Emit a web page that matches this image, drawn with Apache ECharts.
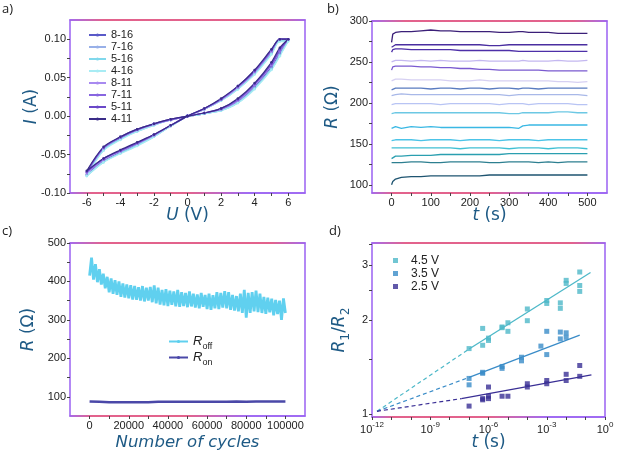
<!DOCTYPE html>
<html><head><meta charset="utf-8">
<script src="https://cdn.jsdelivr.net/npm/echarts@6/dist/echarts.min.js"></script>
<style>html,body{margin:0;padding:0;background:#fff}#c{width:618px;height:458px}</style>
</head><body><div id="c"></div>
<script>
// ================= DATA =================
// (a) I-V sweeps: voltage path shared by all curves
const uA = [0,1,2,3,4,5,5.5,6, 5.5,5,4,3,2,1,0, -1,-2,-3,-4,-5,-6, -5,-4,-3,-2,-1,0];
const ivNames = ['8-16','7-16','5-16','4-16','8-11','7-11','5-11','4-11'];
const iv_8_16 = [0,0.003,0.008,0.019,0.038,0.064,0.082,0.100, 0.100,0.083,0.056,0.036,0.021,0.009,0, -0.013,-0.026,-0.037,-0.047,-0.058,-0.076, -0.043,-0.029,-0.019,-0.011,-0.005,0];
const iv_7_16 = [0,0.003,0.008,0.018,0.037,0.062,0.080,0.099, 0.099,0.082,0.055,0.036,0.021,0.009,0, -0.013,-0.026,-0.038,-0.048,-0.059,-0.077, -0.044,-0.030,-0.019,-0.011,-0.005,0];
const iv_5_16 = [0,0.003,0.007,0.017,0.036,0.061,0.079,0.098, 0.098,0.081,0.055,0.035,0.020,0.009,0, -0.013,-0.027,-0.038,-0.048,-0.060,-0.078, -0.044,-0.030,-0.020,-0.012,-0.005,0];
const iv_4_16 = [0,0.003,0.007,0.017,0.035,0.060,0.078,0.097, 0.097,0.080,0.054,0.035,0.020,0.009,0, -0.013,-0.027,-0.039,-0.049,-0.060,-0.078, -0.045,-0.031,-0.020,-0.012,-0.005,0];
const iv_8_11 = [0,0.004,0.009,0.020,0.040,0.066,0.084,0.100, 0.100,0.084,0.057,0.037,0.021,0.009,0, -0.012,-0.025,-0.036,-0.046,-0.057,-0.074, -0.042,-0.028,-0.018,-0.011,-0.005,0];
const iv_7_11 = [0,0.004,0.009,0.021,0.041,0.067,0.085,0.100, 0.100,0.085,0.058,0.038,0.022,0.010,0, -0.012,-0.025,-0.035,-0.045,-0.056,-0.073, -0.041,-0.028,-0.018,-0.010,-0.005,0];
const iv_5_11 = [0,0.004,0.010,0.022,0.042,0.068,0.087,0.100, 0.100,0.086,0.059,0.039,0.022,0.010,0, -0.012,-0.024,-0.035,-0.045,-0.055,-0.072, -0.041,-0.027,-0.017,-0.010,-0.004,0];
const iv_4_11 = [0,0.004,0.010,0.023,0.043,0.070,0.089,0.100, 0.100,0.087,0.060,0.039,0.023,0.010,0, -0.012,-0.024,-0.034,-0.044,-0.055,-0.071, -0.040,-0.027,-0.017,-0.010,-0.004,0];
const ivData = [iv_8_16, iv_7_16, iv_5_16, iv_4_16, iv_8_11, iv_7_11, iv_5_11, iv_4_11];
const aXLabels = [-6,-4,-2,0,2,4,6];
const aYLabels = [-0.1,-0.05,0,0.05,0.1];

// (b) retention R(t)
const tB = [0,3,10,25,50,75,100,125,150,175,200,225,250,275,300,325,335,350,375,400,425,450,475,500];
const rB1  = [274,284,286,287,287,288,289,288,288,287,287,287,287,286,286,287,287,286,286,286,285,285,285,285];
const rB2  = [268,270,271,271,271,271,271,271,271,271,271,271,270,270,271,271,271,271,271,271,271,271,271,271];
const rB3  = [262,265,266,266,265,265,265,265,265,264,264,264,264,264,264,263,263,263,263,263,263,263,263,263];
const rB4  = [250,251,252,252,251,252,251,252,251,251,251,252,251,251,251,251,252,251,251,251,252,251,251,252];
const rB5  = [240,244,245,245,245,244,244,243,243,242,242,241,241,240,240,240,240,240,240,239,239,239,239,239];
const rB6  = [227,228,229,229,228,228,228,228,227,227,227,228,227,227,227,227,227,227,227,227,226,226,225,226];
const rB7  = [216,217,218,218,218,218,217,218,218,217,218,218,217,218,218,217,218,218,217,218,218,218,218,218];
const rB8  = [209,210,210,211,210,210,210,210,210,210,210,210,210,210,209,210,210,210,210,210,210,210,210,209];
const rB9  = [198,199,199,199,199,199,199,198,199,199,199,199,199,198,199,199,199,198,199,199,199,199,198,198];
const rB10 = [187,188,188,188,188,188,188,188,188,188,188,188,188,188,187,187,188,188,188,188,189,189,188,188];
const rB11 = [169,170,171,169,171,170,171,170,170,170,170,170,170,170,170,169,172,173,173,173,173,173,173,173];
const rB12 = [154,155,155,155,155,154,155,155,155,154,155,155,155,154,155,155,155,155,154,155,155,155,155,155];
const rB13 = [145,145,145,145,145,145,145,145,145,144,145,145,145,145,144,145,145,145,145,144,145,145,145,144];
const rB14 = [132,134,135,135,136,136,136,137,137,137,137,137,137,137,138,138,138,138,138,138,138,138,138,138];
const rB15 = [127,127,127,127,128,128,127,127,128,128,128,128,127,127,128,128,128,128,127,128,127,128,128,128];
const rB16 = [100,104,107,109,110,110,111,111,111,111,111,111,112,112,112,112,112,112,112,112,112,112,112,112];
const rBData = [rB1,rB2,rB3,rB4,rB5,rB6,rB7,rB8,rB9,rB10,rB11,rB12,rB13,rB14,rB15,rB16];
const bXLabels = [0,100,200,300,400,500];
const bYLabels = [100,150,200,250,300];

// (c) endurance
const cyclesOff = [0,1000,2000,3000,4000,5000,6000,7000,8000,9000,10000,11000,12000,13000,14000,15000,16000,17000,18000,19000,20000,21000,22000,23000,24000,25000,26000,27000,28000,29000,30000,31000,32000,33000,34000,35000,36000,37000,38000,39000,40000,41000,42000,43000,44000,45000,46000,47000,48000,49000,50000,51000,52000,53000,54000,55000,56000,57000,58000,59000,60000,61000,62000,63000,64000,65000,66000,67000,68000,69000,70000,71000,72000,73000,74000,75000,76000,77000,78000,79000,80000,81000,82000,83000,84000,85000,86000,87000,88000,89000,90000,91000,92000,93000,94000,95000,96000,97000,98000,99000,100000];
const rOff = [415,462,405,445,398,432,392,420,382,412,372,408,368,403,365,400,360,395,358,392,356,390,353,388,352,385,350,388,348,384,350,386,346,390,343,384,340,378,338,380,336,376,339,374,335,378,334,372,336,370,333,374,335,368,332,366,330,370,334,365,328,368,326,364,330,372,328,370,332,375,330,372,326,365,324,362,322,368,318,378,306,370,318,372,322,376,320,368,318,360,316,358,320,355,312,352,315,350,300,356,318];
const cyclesOn = [0,5000,10000,15000,20000,25000,30000,35000,40000,45000,50000,55000,60000,65000,70000,75000,80000,85000,90000,95000,100000];
const rOn = [88,87,86,86,86,86,86,87,87,87,87,87,87,87,87,88,87,88,88,88,88];
const cXLabels = [0,20000,40000,60000,80000,100000];
const cYLabels = [100,200,300,400,500];

// (d) R1/R2 vs t
const tD45 = [1e-7,5e-7,5e-7,1e-6,1e-6,5e-6,5e-6,1e-5,1e-5,1e-4,1e-4,1e-3,1e-3,5e-3,5e-3,1e-2,1e-2,5e-2,5e-2,5e-2];
const rD45 = [1.62,1.88,1.66,1.75,1.72,1.90,1.89,1.96,1.84,2.17,1.99,2.31,2.26,2.27,2.18,2.68,2.62,2.85,2.58,2.47];
const tD35 = [1e-7,1e-7,5e-7,5e-7,5e-6,5e-6,5e-5,5e-5,5e-4,1e-3,1e-3,5e-3,5e-3,1e-2,1e-2];
const rD35 = [1.30,1.24,1.36,1.35,1.42,1.40,1.52,1.48,1.65,1.84,1.55,1.83,1.74,1.82,1.76];
const tD25 = [1e-7,5e-7,5e-7,1e-6,1e-6,1e-6,5e-6,1e-5,1e-4,1e-4,1e-3,1e-3,1e-2,1e-2,5e-2,5e-2];
const rD25 = [1.06,1.12,1.11,1.22,1.14,1.12,1.14,1.14,1.25,1.22,1.28,1.25,1.34,1.28,1.43,1.32];
const fitT45 = [1e-7,0.18],  fitR45 = [1.615,2.84];
const fitT35 = [1e-7,0.05],  fitR35 = [1.31,1.79];
const fitT25 = [4e-8,0.2],   fitR25 = [1.12,1.335];
const dashT45 = [1.8e-12,1e-7], dashR45 = [1.02,1.615];
const dashT35 = [1.8e-12,1e-7], dashR35 = [1.02,1.31];
const dashT25 = [1.8e-12,4e-8], dashR25 = [1.02,1.12];
const dXExp = [-12,-9,-6,-3,0];
const dYLabels = [1,2,3];

// ================= STYLE =================
const purple = '#9a62f2', red = '#f2566a', titleCol = '#1e5a85';
const gradTop = () => new echarts.graphic.LinearGradient(0,0,1,0,[{offset:0,color:purple},{offset:0.15,color:red},{offset:0.85,color:red},{offset:1,color:purple}]);
const gradBot = () => new echarts.graphic.LinearGradient(0,0,1,0,[{offset:0,color:purple},{offset:0.1,color:red},{offset:0.5,color:red},{offset:0.75,color:purple},{offset:1,color:purple}]);
const lblFont = {color:'#222', fontSize:11, fontFamily:'Liberation Sans, Arial', margin:4};
const tickSt = {show:true, length:3, lineStyle:{color:'#444', width:1}};
const nameSt = (sz) => ({color:titleCol, fontSize:sz, fontFamily:'DejaVu Sans',
  rich:{i:{fontStyle:'italic', color:titleCol, fontSize:sz, fontFamily:'DejaVu Sans'},
        j:{fontStyle:'italic', color:titleCol, fontSize:sz, fontFamily:'DejaVu Sans', verticalAlign:'bottom', padding:[0,0,4,0]},
        n:{color:titleCol, fontSize:sz, fontFamily:'DejaVu Sans', verticalAlign:'bottom', padding:[0,0,4,0]},
        sb:{color:titleCol, fontSize:sz*0.72, fontFamily:'DejaVu Sans', verticalAlign:'bottom'}}});
const aColors = ['#5a5ac8','#98b0e8','#80d8ec','#a8ecf4','#a88af0','#8866e0','#6a48c8','#3a2c88'];
const bColors = ['#3b1f78','#4a2ea0','#4d2fa8','#c4b8f0','#7a5ad0','#d6d0f2','#5a7cc0','#a8b8e8','#b8c4f4','#6cc8e4','#3ab8e4','#4cc4e8','#40c0d4','#2a9fb0','#2d7f90','#1e5470'];
const dColors = ['#4db8c8','#3a8cc8','#3a2f95'];

function bottomX(grid, min, max, labels, ticks, name, gap, nameSize, extra) {
  return Object.assign({type:'value', gridIndex:grid, position:'bottom', min, max,
    axisLine:{show:true, onZero:false, lineStyle:{color:gradBot(), width:1.5}},
    axisTick:Object.assign({customValues:ticks}, tickSt),
    axisLabel:Object.assign({customValues:labels, formatter:v=>String(v)}, lblFont),
    splitLine:{show:false}, name, nameLocation:'middle', nameGap:gap, nameMoveOverlap:false,
    nameTextStyle:nameSt(nameSize)}, extra||{});
}
function topX(grid, min, max, type) {
  return {type:type||'value', gridIndex:grid, position:'top', min, max,
    axisLine:{show:true, onZero:false, lineStyle:{color:gradTop(), width:1.5}},
    axisTick:{show:false}, axisLabel:{show:false}, splitLine:{show:false}};
}
function leftY(grid, min, max, labels, ticks, name, gap, fmt) {
  return {type:'value', gridIndex:grid, position:'left', min, max,
    axisLine:{show:false, onZero:false},
    axisTick:Object.assign({customValues:ticks}, tickSt),
    axisLabel:Object.assign({customValues:labels, formatter:fmt}, lblFont),
    splitLine:{show:false}, name, nameLocation:'middle', nameGap:gap, nameRotate:90, nameMoveOverlap:false,
    nameTextStyle:nameSt(17)};
}

const series = [];
ivData.forEach((arr, k) => series.push({
  name: ivNames[k], type:'line', xAxisIndex:0, yAxisIndex:0,
  data: uA.map((u,i)=>[u, arr[i]]), smooth:0.3, symbol:'circle', symbolSize:2.5, showSymbol:true,
  lineStyle:{width:1.2, color:aColors[k]}, itemStyle:{color:aColors[k]}
}));
rBData.forEach((arr, k) => series.push({
  name:'b'+(k+1), type:'line', xAxisIndex:2, yAxisIndex:1,
  data: tB.map((t,i)=>[t, arr[i]]), symbol:'none', lineStyle:{width:1.3, color:bColors[k]}
}));
series.push({name:'Roff', type:'line', xAxisIndex:4, yAxisIndex:2,
  data: cyclesOff.map((c,i)=>[c, rOff[i]]), symbol:'circle', symbolSize:3, showSymbol:false,
  lineStyle:{width:2.8, color:'#60d0ef'}, itemStyle:{color:'#5ccfee'}});
series.push({name:'Ron', type:'line', xAxisIndex:4, yAxisIndex:2,
  data: cyclesOn.map((c,i)=>[c, rOn[i]]), symbol:'circle', symbolSize:3, showSymbol:false,
  lineStyle:{width:2.5, color:'#4a48a8'}, itemStyle:{color:'#4a48a8'}});
const dSets = [['4.5 V',tD45,rD45,fitT45,fitR45,dashT45,dashR45],['3.5 V',tD35,rD35,fitT35,fitR35,dashT35,dashR35],['2.5 V',tD25,rD25,fitT25,fitR25,dashT25,dashR25]];
dSets.forEach((s,k) => {
  series.push({name:s[0]+' dash', type:'line', xAxisIndex:6, yAxisIndex:3, data:s[5].map((t,i)=>[t,s[6][i]]),
    symbol:'none', lineStyle:{width:1.2, type:[4,3], color:dColors[k]}});
  series.push({name:s[0]+' fit', type:'line', xAxisIndex:6, yAxisIndex:3, data:s[3].map((t,i)=>[t,s[4][i]]),
    symbol:'none', lineStyle:{width:1.3, color:dColors[k]}});
  series.push({name:s[0], type:'scatter', xAxisIndex:6, yAxisIndex:3, data:s[1].map((t,i)=>[t,s[2][i]]),
    symbol:'rect', symbolSize:5, itemStyle:{color:dColors[k]}, z:5});
});

const option = {
  animation:false,
  backgroundColor:'#fff',
  grid:[
    {left:70, top:20, width:235, height:173, show:true, borderColor:purple, borderWidth:1.5, outerBoundsMode:'none'},
    {left:372, top:21, width:235, height:172, show:true, borderColor:purple, borderWidth:1.5, outerBoundsMode:'none'},
    {left:70, top:243, width:235, height:173, show:true, borderColor:purple, borderWidth:1.5, outerBoundsMode:'none'},
    {left:372, top:243, width:233, height:174, show:true, borderColor:purple, borderWidth:1.5, outerBoundsMode:'none'}
  ],
  xAxis:[
    bottomX(0,-7,7,aXLabels,[-6,-5,-4,-3,-2,-1,0,1,2,3,4,5,6],'{i|U} (V)',14,17),
    topX(0,-7,7),
    bottomX(1,-50,550,bXLabels,[0,50,100,150,200,250,300,350,400,450,500],'{i|t} (s)',14,17),
    topX(1,-50,550),
    bottomX(2,-10000,110000,cXLabels,[0,10000,20000,30000,40000,50000,60000,70000,80000,90000,100000],'Number of cycles',18,16.5,
      {nameTextStyle:{color:titleCol, fontSize:16.5, fontFamily:'DejaVu Sans', fontStyle:'italic'}}),
    topX(2,-10000,110000),
    {type:'log', gridIndex:3, position:'bottom', min:1e-12, max:1, logBase:10,
      axisLine:{show:true, onZero:false, lineStyle:{color:gradBot(), width:1.5}}, axisTick:{show:false}, axisLabel:{show:false}, splitLine:{show:false}},
    bottomX(3,-12,0,dXExp,[-12,-11,-10,-9,-8,-7,-6,-5,-4,-3,-2,-1,0],'{i|t} (s)',17,17,
      {axisLine:{show:false, onZero:false}, axisLabel:Object.assign({}, lblFont, {customValues:dXExp,
        formatter:v=>'{b|10}{s|'+v+'}',
        rich:{b:{fontSize:11, fontFamily:'Liberation Sans', color:'#222', verticalAlign:'bottom'},
              s:{fontSize:8, fontFamily:'Liberation Sans', color:'#222', verticalAlign:'bottom', padding:[0,0,6,0]}}})}),
    topX(3,1e-12,1,'log')
  ],
  yAxis:[
    leftY(0,-0.1,0.125,aYLabels,[-0.1,-0.075,-0.05,-0.025,0,0.025,0.05,0.075,0.1],'{i|I} (A)',30,v=>v.toFixed(2)),
    leftY(1,90,300,bYLabels,[100,125,150,175,200,225,250,275,300],'{i|R} (Ω)',31,v=>String(v)),
    leftY(2,50,500,cYLabels,[100,150,200,250,300,350,400,450,500],'{i|R} (Ω)',33,v=>String(v)),
    {type:'log', gridIndex:3, position:'left', min:0.978, max:3.53, logBase:10, axisLine:{show:false, onZero:false}, axisTick:{show:false}, axisLabel:{show:false}, splitLine:{show:false}},
    leftY(3,Math.log10(0.978),Math.log10(3.53),dYLabels.map(v=>Math.log10(v)),[1,1.5,2,2.5,3,3.5].map(v=>Math.log10(v)),
      '{j|R}{sb|1}{n|/}{j|R}{sb|2}',20,v=>String(Math.round(Math.pow(10,v))))
  ],
  legend:[
    {data:ivNames, left:83, top:24, orient:'vertical', itemWidth:17, itemHeight:4, itemGap:0,
      textStyle:{fontSize:11, lineHeight:12, color:'#222', fontFamily:'Liberation Sans'}},
    {data:['Roff','Ron'], left:163, top:330, orient:'vertical', itemWidth:19, itemHeight:4, itemGap:0,
      formatter:n=> n==='Roff' ? '{i|R}{s|off}' : '{i|R}{s|on}',
      textStyle:{fontSize:13, color:'#222', fontFamily:'Liberation Sans',
        rich:{i:{fontStyle:'italic', fontSize:13, fontFamily:'Liberation Sans', color:'#222', verticalAlign:'bottom'},
              s:{fontSize:9, fontFamily:'Liberation Sans', color:'#222', verticalAlign:'bottom', padding:[0,0,-3,0]}}}},
    {data:['4.5 V','3.5 V','2.5 V'], left:388, top:249, orient:'vertical', icon:'rect', itemWidth:5, itemHeight:5, itemGap:0,
      textStyle:{fontSize:12, lineHeight:13, color:'#222', fontFamily:'Liberation Sans', padding:[0,0,0,8]}}
  ],
  graphic:[
    {type:'text', left:2, top:3, style:{text:'a)', fontSize:13, fontFamily:'Open Sans', fill:'#222'}},
    {type:'text', left:327, top:3, style:{text:'b)', fontSize:13, fontFamily:'Open Sans', fill:'#222'}},
    {type:'text', left:2, top:225, style:{text:'c)', fontSize:13, fontFamily:'Open Sans', fill:'#222'}},
    {type:'text', left:329, top:225, style:{text:'d)', fontSize:13, fontFamily:'Open Sans', fill:'#222'}}
  ],
  series
};
const chart = echarts.init(document.getElementById('c'));
chart.setOption(option);
</script>
</body></html>
